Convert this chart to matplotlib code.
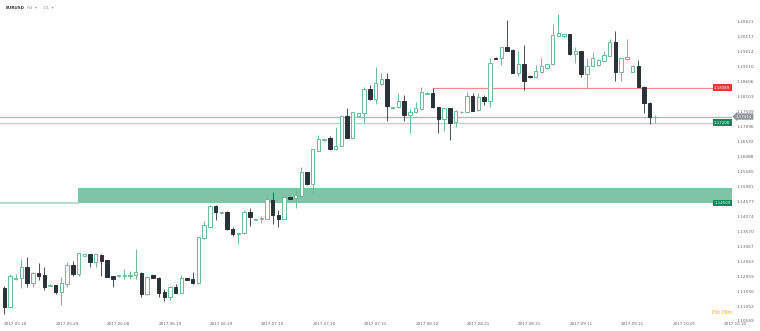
import numpy as np
import matplotlib.pyplot as plt

# EURUSD daily candles (6 bars a week)
opens = [1.11667, 1.11029, 1.11949, 1.11983, 1.12372, 1.11835, 1.12151, 1.12093, 1.11724, 1.11758,
         1.11513, 1.11781, 1.12429, 1.12117, 1.12731, 1.12788, 1.12520, 1.12765, 1.12597, 1.12050,
         1.12060, 1.12060, 1.12060, 1.12093, 1.12171, 1.11456, 1.12083, 1.12003, 1.11533, 1.11345,
         1.11701, 1.11499, 1.11983, 1.11949, 1.11815, 1.13326, 1.13715, 1.14410, 1.14165, 1.14219,
         1.13638, 1.13470, 1.13494, 1.14199, 1.13950, 1.13982, 1.13982, 1.14612, 1.14108, 1.13982,
         1.14702, 1.14669, 1.14746, 1.15542, 1.15149, 1.16267, 1.16616, 1.16693, 1.16324, 1.16435,
         1.17432, 1.16703, 1.17432, 1.17523, 1.18328, 1.18003, 1.18496, 1.18664, 1.17700, 1.17724,
         1.17936, 1.17455, 1.17556, 1.17667, 1.18181, 1.18194, 1.17724, 1.17321, 1.17690, 1.17220,
         1.17556, 1.17576, 1.18103, 1.17633, 1.18060, 1.17946, 1.19389, 1.19389, 1.19738, 1.19648,
         1.18886, 1.19178, 1.18785, 1.18731, 1.18899, 1.19033, 1.19168, 1.20128, 1.20118, 1.20185,
         1.19503, 1.19614, 1.18832, 1.19111, 1.19144, 1.19289, 1.19456, 1.19906, 1.18899, 1.19336,
         1.18919, 1.19111, 1.18416, 1.17878, 1.17400]
highs = [1.11724, 1.12117, 1.12137, 1.12621, 1.12688, 1.12194, 1.12486, 1.12372, 1.11780, 1.11770,
         1.12036, 1.12540, 1.12564, 1.12842, 1.12810, 1.12800, 1.12810, 1.12790, 1.12610, 1.12070,
         1.12110, 1.12285, 1.12228, 1.12956, 1.12190, 1.12060, 1.12100, 1.12020, 1.11613, 1.11720,
         1.11781, 1.12093, 1.12000, 1.12184, 1.13380, 1.13917, 1.14430, 1.14430, 1.14210, 1.14240,
         1.13715, 1.13510, 1.14276, 1.14333, 1.13990, 1.14069, 1.14780, 1.14890, 1.14276, 1.14720,
         1.14720, 1.14947, 1.15730, 1.15560, 1.16330, 1.16794, 1.16670, 1.16750, 1.17052, 1.17460,
         1.17690, 1.17580, 1.17540, 1.18416, 1.18473, 1.19087, 1.18886, 1.18865, 1.17740, 1.18194,
         1.18137, 1.17657, 1.17912, 1.18416, 1.18230, 1.18389, 1.17740, 1.17710, 1.17710, 1.17620,
         1.17590, 1.18248, 1.18194, 1.18214, 1.18137, 1.19369, 1.19400, 1.19760, 1.20655, 1.19670,
         1.19624, 1.19816, 1.18800, 1.19144, 1.19369, 1.19190, 1.20521, 1.20857, 1.20200, 1.20200,
         1.19738, 1.19630, 1.19369, 1.19591, 1.19330, 1.19624, 1.20007, 1.20296, 1.19390, 1.20007,
         1.19130, 1.19312, 1.18430, 1.17900, 1.17465]
lows = [1.10784, 1.11010, 1.11940, 1.11647, 1.11701, 1.11701, 1.11926, 1.11590, 1.11710, 1.11472,
        1.11086, 1.11701, 1.12060, 1.12060, 1.12720, 1.12352, 1.12372, 1.12060, 1.12010, 1.11680,
        1.12040, 1.11949, 1.11949, 1.11949, 1.11365, 1.11430, 1.11980, 1.11365, 1.11221, 1.11254,
        1.11480, 1.11480, 1.11910, 1.11800, 1.11800, 1.13300, 1.13700, 1.13940, 1.14150, 1.13600,
        1.13403, 1.13134, 1.13470, 1.13739, 1.13930, 1.13827, 1.13960, 1.13796, 1.13695, 1.13960,
        1.14640, 1.14353, 1.14720, 1.15120, 1.14813, 1.16250, 1.16600, 1.16290, 1.16300, 1.16410,
        1.16680, 1.16680, 1.17410, 1.17207, 1.17980, 1.17835, 1.18480, 1.17274, 1.17680, 1.17700,
        1.17274, 1.16871, 1.17540, 1.17650, 1.18170, 1.17700, 1.16851, 1.16938, 1.16626, 1.17052,
        1.17540, 1.17560, 1.17590, 1.17610, 1.17801, 1.17724, 1.19340, 1.19144, 1.19600, 1.18860,
        1.18775, 1.18320, 1.18720, 1.18710, 1.18880, 1.19010, 1.19150, 1.20110, 1.20100, 1.19480,
        1.19221, 1.18731, 1.18362, 1.19090, 1.19120, 1.19270, 1.19440, 1.18607, 1.18617, 1.19320,
        1.18900, 1.18390, 1.17543, 1.17163, 1.17197]
closes = [1.11029, 1.12060, 1.12003, 1.12372, 1.11835, 1.12151, 1.12070, 1.11701, 1.11768, 1.11513,
          1.11815, 1.12429, 1.12127, 1.12822, 1.12788, 1.12520, 1.12799, 1.12574, 1.12036, 1.11949,
          1.12093, 1.12093, 1.12093, 1.12184, 1.11456, 1.12036, 1.11993, 1.11479, 1.11345, 1.11701,
          1.11499, 1.11983, 1.11926, 1.11815, 1.13359, 1.13762, 1.14410, 1.14199, 1.14199, 1.13628,
          1.13460, 1.13494, 1.14199, 1.14031, 1.13972, 1.14015, 1.14645, 1.14108, 1.13972, 1.14702,
          1.14655, 1.14779, 1.15542, 1.15149, 1.16314, 1.16649, 1.16649, 1.16314, 1.16435, 1.17442,
          1.16703, 1.17556, 1.17523, 1.18328, 1.18003, 1.18530, 1.18664, 1.17778, 1.17724, 1.17925,
          1.17455, 1.17566, 1.17690, 1.18238, 1.18214, 1.17724, 1.17321, 1.17690, 1.17207, 1.17600,
          1.17576, 1.18103, 1.17610, 1.18080, 1.17946, 1.19201, 1.19356, 1.19738, 1.19624, 1.18886,
          1.19168, 1.18607, 1.18731, 1.18943, 1.19111, 1.19168, 1.20151, 1.20208, 1.20185, 1.19503,
          1.19614, 1.18832, 1.19111, 1.19389, 1.19312, 1.19480, 1.19906, 1.18899, 1.19369, 1.19403,
          1.19111, 1.18416, 1.17858, 1.17400, 1.17414]

date_labels = ["2017.05.18", "2017.05.29", "2017.06.08", "2017.06.19", "2017.06.29",
               "2017.07.10", "2017.07.20", "2017.07.31", "2017.08.10", "2017.08.21",
               "2017.08.31", "2017.09.11", "2017.09.21", "2017.10.01", "2017.10.10"]
price_ticks = [1.10549, 1.11052, 1.11556, 1.12059, 1.12563, 1.13067, 1.13570, 1.14074,
               1.14577, 1.15081, 1.15585, 1.16088, 1.16592, 1.17096, 1.17599, 1.18103,
               1.18606, 1.19110, 1.19614, 1.20117, 1.20621]

red_level = 1.18389
last_price = 1.17414
green_level = 1.17208
zone_low = 1.14509
zone_high = 1.15004
red_start = 75
zone_start = 12.9

up_col = "#6dbb98"
down_col = "#2b3139"

x = np.arange(len(opens))
o = np.array(opens)
c = np.array(closes)
up = c >= o

fig = plt.figure(figsize=(7.6, 3.31), dpi=100)
ax = fig.add_axes([0, 0, 732 / 760, 1])
ax.set_xlim(-0.75, 127.4)
ax.set_ylim(1.10213, 1.21327)

#zone + levels
ax.fill_between([zone_start, 127.4], zone_low, zone_high, color="#80c4a7", lw=0, zorder=1)
ax.plot([-0.75, zone_start], [zone_low, zone_low], color="#a9dbc6", lw=1.2, zorder=1)
ax.plot([red_start, 123.9], [red_level, red_level], color="#f08c8c", lw=0.9, zorder=1)
ax.plot([-0.75, 127.4], [last_price, last_price], color="#b5b5b5", lw=0.9, zorder=1)
ax.plot([-0.75, 123.9], [green_level, green_level], color="#a9dbc6", lw=0.9, zorder=1)

#candles
ax.vlines(x[up], np.array(lows)[up], np.array(highs)[up], color=up_col, lw=0.7, zorder=2)
ax.vlines(x[~up], np.array(lows)[~up], np.array(highs)[~up], color="#4a5058", lw=0.7, zorder=2)
ax.bar(x[up], (c - o)[up], bottom=o[up], width=0.6, color="white",
       edgecolor=up_col, linewidth=0.7, zorder=3)
ax.bar(x[~up], (o - c)[~up], bottom=c[~up], width=0.6, color=down_col,
       edgecolor=down_col, linewidth=0.7, zorder=3)

# axes styling
for s in ax.spines.values():
    s.set_visible(False)
ax.set_xticks([])
ax.yaxis.tick_right()
ax.set_yticks(price_ticks)
ax.set_yticklabels([f"{p:.5f}" for p in price_ticks])
ax.tick_params(axis="y", length=0, pad=3, labelsize=3.1, labelcolor="#666666")

date_pos = np.arange(len(date_labels)) * 9 + 2
for pos, lab in zip(date_pos, date_labels):
    ax.text(pos, 0.021, lab, transform=ax.get_xaxis_transform(), ha="center", va="center",
            fontsize=3.0, color="#666666", clip_on=False)

# price tags
tr = ax.get_yaxis_transform()
for lvl, col in [(red_level, "#e23b33"), (green_level, "#16855a"), (zone_low, "#16855a")]:
    ax.text(0.9865, lvl, f"{lvl:.5f}", transform=tr, ha="center", va="center", fontsize=2.8,
            color="white", zorder=5, bbox=dict(boxstyle="square,pad=0.35", fc=col, ec="none"))
ax.text(1.0165, last_price, f"{last_price:.5f}", transform=tr, ha="center", va="center",
        fontsize=2.8, color="white", clip_on=False, zorder=5,
        bbox=dict(boxstyle="larrow,pad=0.3", fc="#8d949b", ec="none"))

ax.text(0.008, 0.976, "EURUSD", transform=ax.transAxes, fontsize=3.0, color="#333333",
        fontweight="bold", va="center")
ax.text(0.037, 0.976, "H4  \u25be     D1  \u25be", transform=ax.transAxes, fontsize=3.0,
        color="#999999", va="center")
ax.text(1.0, 0.0574, "15h 29m", transform=ax.transAxes, fontsize=3.4, color="#f5a623",
        ha="right", va="center")

plt.savefig("out.png", dpi=100)
